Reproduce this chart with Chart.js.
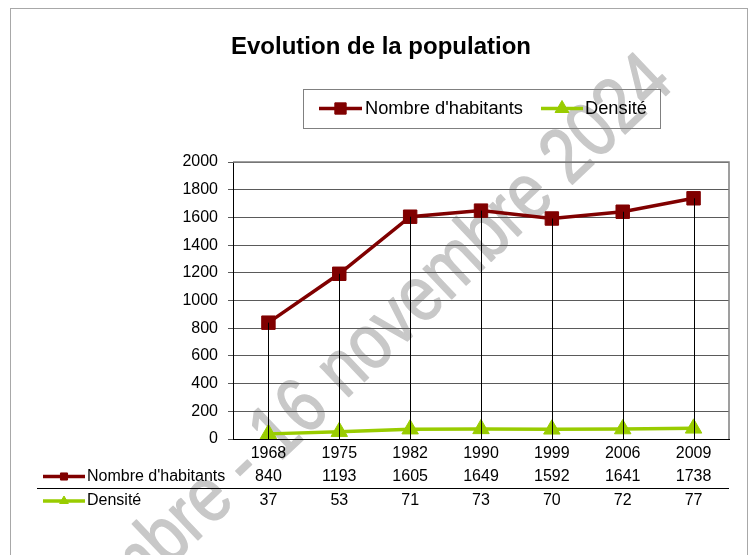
<!DOCTYPE html>
<html lang="fr">
<head>
<meta charset="utf-8">
<title>Evolution de la population</title>
<script src="https://cdn.jsdelivr.net/npm/chart.js@4/dist/chart.umd.min.js"></script>
<style>
  html, body { margin: 0; padding: 0; background: #fff; }
  canvas { display: block; }
</style>
</head>
<body>
<canvas id="chartPop" width="754" height="555"></canvas>
<script>
// -------------------------------------------------------
// Data
// -------------------------------------------------------
const years      = ['1968', '1975', '1982', '1990', '1999', '2006', '2009'];
const habitants  = [840, 1193, 1605, 1649, 1592, 1641, 1738];
const densite    = [37, 53, 71, 73, 70, 72, 77];
const yMin = 0, yMax = 2000, yStep = 200;

const TITLE      = 'Evolution de la population';
const LABEL_HAB  = "Nombre d'habitants";
const LABEL_DENS = 'Densité';
const STAMP      = 'novembre - 16 novembre 2024';

const RED   = '#800000';
const GREEN = '#99cc00';
const FONT  = '"Liberation Sans", Arial, sans-serif';

// -------------------------------------------------------
// Helpers
// -------------------------------------------------------
function drawKey(ctx, x1, x2, y, color, style, radius) {
    ctx.save();
    ctx.strokeStyle = color;
    ctx.fillStyle = color;
    ctx.lineWidth = 3.5;
    ctx.beginPath();
    ctx.moveTo(x1, y);
    ctx.lineTo(x2, y);
    ctx.stroke();
    ctx.lineWidth = 1;
    Chart.helpers.drawPoint(ctx, { pointStyle: style, radius: radius, rotation: 0, borderWidth: 1 }, (x1 + x2) / 2, y);
    ctx.restore();
}

// -------------------------------------------------------
// Frame + stamp behind everything
// -------------------------------------------------------
const backdrop = {
    id: 'backdrop',
    beforeDraw(chart) {
        const ctx = chart.ctx;
        ctx.save();
        ctx.fillStyle = '#fff';
        ctx.fillRect(0, 0, chart.width, chart.height);

        ctx.strokeStyle = '#a8a8a8';
        ctx.lineWidth = 1;
        ctx.strokeRect(10.5, 8.5, 737, 560);

        // diagonal date stamp, tall narrow letters
        ctx.font = '78px ' + FONT;
        const head = ctx.measureText('novem').width;
        const tail = ctx.measureText('bre - 16 novembre 2024').width;
        const sx = 700 / tail;
        ctx.translate(168, 568);
        ctx.rotate(Math.atan2(82 - 568, 680 - 168));
        ctx.scale(sx, 1);
        ctx.fillStyle = '#c8c8c8';
        ctx.strokeStyle = '#c8c8c8';
        ctx.lineWidth = 1.5;
        ctx.lineJoin = 'round';
        ctx.textAlign = 'left';
        ctx.textBaseline = 'alphabetic';
        ctx.fillText(STAMP, -head, 0);
        ctx.strokeText(STAMP, -head, 0);
        ctx.restore();
    }
};

// -------------------------------------------------------
// Drop lines, plot border, title, legend, data table
// -------------------------------------------------------
const decorations = {
    id: 'decorations',
    afterDatasetsDraw(chart) {
        const ctx = chart.ctx;
        const area = chart.chartArea;
        const pts = chart.getDatasetMeta(0).data;
        ctx.save();
        ctx.strokeStyle = '#000';
        ctx.lineWidth = 1;
        pts.forEach(p => {
            const x = Math.round(p.x) + 0.5;
            ctx.beginPath();
            ctx.moveTo(x, p.y);
            ctx.lineTo(x, area.bottom);
            ctx.stroke();
        });

        // top / right border of the plot
        ctx.strokeStyle = '#808080';
        ctx.lineWidth = 1.5;
        ctx.beginPath();
        ctx.moveTo(area.left, area.top);
        ctx.lineTo(area.right, area.top);
        ctx.lineTo(area.right, area.bottom);
        ctx.stroke();
        ctx.restore();
    },
    afterDraw(chart) {
        const ctx = chart.ctx;
        const area = chart.chartArea;
        const xs = chart.scales.x;
        ctx.save();

        // title
        ctx.fillStyle = '#000';
        ctx.font = 'bold 24px ' + FONT;
        ctx.textAlign = 'center';
        ctx.textBaseline = 'alphabetic';
        ctx.fillText(TITLE, 381, 54);

        // legend
        ctx.strokeStyle = '#808080';
        ctx.lineWidth = 1;
        ctx.strokeRect(303.5, 89.5, 357, 39);
        drawKey(ctx, 319, 362, 108.5, RED, 'rect', 8);
        drawKey(ctx, 541, 583, 108.5, GREEN, 'triangle', 8);
        ctx.fillStyle = '#000';
        ctx.font = '18.3px ' + FONT;
        ctx.textAlign = 'left';
        ctx.textBaseline = 'middle';
        ctx.fillText(LABEL_HAB, 365, 109);
        ctx.fillText(LABEL_DENS, 585, 109);

        // data table under the axis
        const rows = [
            { label: LABEL_HAB,  values: habitants, color: RED,   style: 'rect',     y: 476.5 },
            { label: LABEL_DENS, values: densite,   color: GREEN, style: 'triangle', y: 501 }
        ];
        ctx.font = '16px ' + FONT;
        rows.forEach(r => {
            drawKey(ctx, 43, 85, r.y, r.color, r.style, 5);
            ctx.fillStyle = '#000';
            ctx.textAlign = 'left';
            ctx.fillText(r.label, 87, r.y);
            ctx.textAlign = 'center';
            r.values.forEach((v, i) => ctx.fillText(String(v), xs.getPixelForValue(i), r.y));
        });
        ctx.strokeStyle = '#000';
        ctx.lineWidth = 1;
        ctx.beginPath();
        ctx.moveTo(37, 488.5);
        ctx.lineTo(area.right, 488.5);
        ctx.stroke();
        ctx.restore();
    }
};

// -------------------------------------------------------
// Chart
// -------------------------------------------------------
new Chart(document.getElementById('chartPop').getContext('2d'), {
    type: 'line',
    data: {
        labels: years,
        datasets: [
            {
                label: LABEL_HAB,
                data: habitants,
                borderColor: RED,
                backgroundColor: RED,
                borderWidth: 3.5,
                pointStyle: 'rect',
                pointRadius: 9.5,
                pointBorderWidth: 1,
                tension: 0
            },
            {
                label: LABEL_DENS,
                data: densite,
                borderColor: GREEN,
                backgroundColor: GREEN,
                borderWidth: 3.5,
                pointStyle: 'triangle',
                pointRadius: 9.5,
                pointBorderWidth: 1,
                tension: 0
            }
        ]
    },
    options: {
        responsive: false,
        animation: false,
        devicePixelRatio: 1,
        layout: { padding: { left: 170, right: 25, top: 162, bottom: 86 } },
        plugins: {
            legend: { display: false },
            title: { display: false },
            tooltip: { enabled: false }
        },
        scales: {
            x: {
                offset: true,
                grid: { display: false },
                border: { display: true, color: '#000', width: 1 },
                ticks: { color: '#000', font: { family: FONT, size: 16 }, padding: -3, maxRotation: 0 },
                afterFit: s => { s.height = 30; }
            },
            y: {
                min: yMin,
                max: yMax,
                grid: { color: '#5a5a5a', lineWidth: 1, tickLength: 5 },
                border: { display: true, color: '#000', width: 1 },
                ticks: {
                    stepSize: yStep,
                    color: '#000',
                    font: { family: FONT, size: 16 },
                    padding: 10,
                    callback: v => String(v)
                },
                afterFit: s => { s.width = 63; }
            }
        }
    },
    plugins: [backdrop, decorations]
});
</script>
</body>
</html>
